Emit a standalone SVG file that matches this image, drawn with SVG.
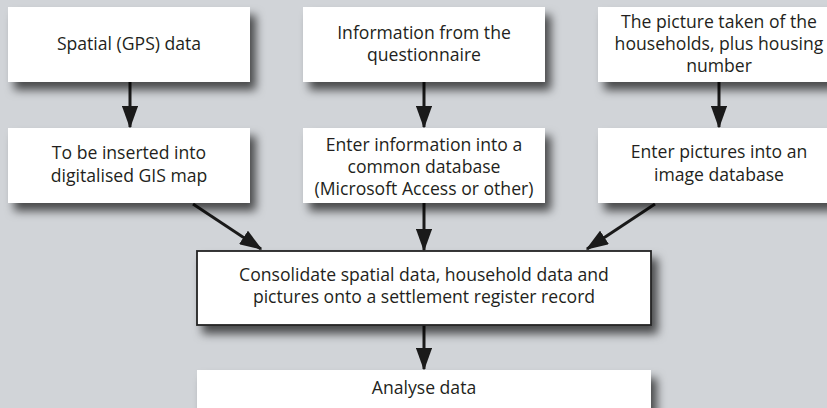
<svg xmlns="http://www.w3.org/2000/svg" width="827" height="408" viewBox="0 0 827 408">
<style>
.box{fill:#ffffff;filter:url(#sh)}
.bord{stroke:#222222;stroke-width:1.8}
.t{font-family:"Open Sans","Noto Sans",sans-serif;font-size:17.6px;fill:#231f20;text-anchor:middle}
.c{stroke:#1a1a1a;stroke-width:3;fill:none;marker-end:url(#ah)}
</style>
<defs>
<filter id="sh" x="-10%" y="-20%" width="130%" height="170%">
<feDropShadow dx="6" dy="8" stdDeviation="5" flood-color="#000" flood-opacity="0.65"/>
</filter>
<marker id="ah" markerWidth="7.5" markerHeight="5.4" refX="7" refY="2.7" orient="auto" markerUnits="strokeWidth" viewBox="0 0 7.5 5.4">
<path d="M0,0 L7.5,2.7 L0,5.4 z" fill="#1a1a1a"/>
</marker>
</defs>
<rect x="0" y="0" width="827" height="408" fill="#d1d4d8"/>
<g id="connectors">
<line class="c" x1="130" y1="82" x2="130" y2="127"/>
<line class="c" x1="424" y1="82" x2="424" y2="127"/>
<line class="c" x1="719" y1="82" x2="719" y2="127"/>
<line class="c" x1="193" y1="204" x2="261" y2="249"/>
<line class="c" x1="424" y1="203" x2="424" y2="250"/>
<line class="c" x1="655" y1="204" x2="587" y2="249"/>
<line class="c" x1="424" y1="325" x2="424" y2="369"/>
</g>
<g id="n1"><rect class="box" x="8" y="7" width="242" height="75"/>
<text class="t" x="129" y="50">Spatial (GPS) data</text></g>
<g id="n2"><rect class="box" x="303" y="7" width="242" height="75"/>
<text class="t" x="424" y="39">Information from the</text>
<text class="t" x="424" y="61">questionnaire</text></g>
<g id="n3"><rect class="box" x="598" y="7" width="242" height="75"/>
<text class="t" x="719" y="28">The picture taken of the</text>
<text class="t" x="719" y="50">households, plus housing</text>
<text class="t" x="719" y="72">number</text></g>
<g id="n4"><rect class="box" x="8" y="128" width="242" height="75"/>
<text class="t" x="129" y="159">To be inserted into</text>
<text class="t" x="129" y="182">digitalised GIS map</text></g>
<g id="n5"><rect class="box" x="303" y="128" width="242" height="75"/>
<text class="t" x="424" y="151">Enter information into a</text>
<text class="t" x="424" y="173">common database</text>
<text class="t" x="424" y="195">(Microsoft Access or other)</text></g>
<g id="n6"><rect class="box" x="598" y="128" width="242" height="75"/>
<text class="t" x="719" y="158">Enter pictures into an</text>
<text class="t" x="719" y="181">image database</text></g>
<g id="n7"><rect class="box bord" x="197" y="251" width="454" height="74"/>
<text class="t" x="424" y="281">Consolidate spatial data, household data and</text>
<text class="t" x="424" y="303">pictures onto a settlement register record</text></g>
<g id="n8"><rect class="box" x="197" y="370" width="454" height="60"/>
<text class="t" x="424" y="394">Analyse data</text></g>
</svg>
